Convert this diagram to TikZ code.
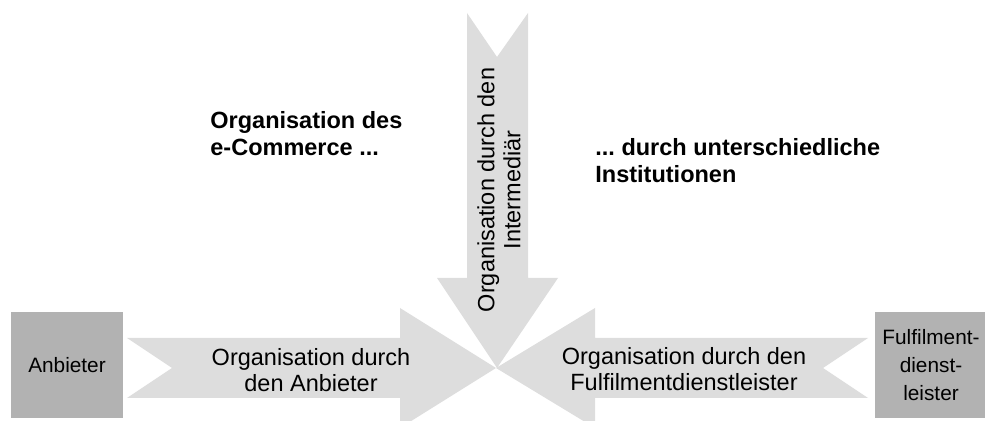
\documentclass[tikz,border=0pt]{standalone}
\usepackage{fontspec}
\setmainfont{Liberation Sans}
\usetikzlibrary{positioning}
\definecolor{flowgray}{RGB}{221,221,221}
\definecolor{partygray}{RGB}{178,178,178}
\frenchspacing

\begin{document}
\begin{tikzpicture}[
            x=0.5pt, y=-0.5pt,
            flow/.style={fill=flowgray, draw=none},
            party/.style={rectangle, fill=partygray, minimum width=56pt, minimum height=53pt, inner sep=0pt, align=center, font=\fontsize{10.4}{14}\selectfont},
            flowtext/.style={inner sep=0pt, align=center, font=\fontsize{11.75}{13}\selectfont},
            heading/.style={inner sep=0pt, align=left, font=\bfseries\fontsize{11.75}{13.5}\selectfont}
        ]

        \clip (0,0) rectangle (985,421);

        % Arrows into the centre
        \fill[flow] (127,338) -- (400,338) -- (400,308) -- (496,368) -- (400,428) -- (400,398) -- (127,398) -- (172,368) -- cycle;
        \fill[flow] (868,338) -- (595,338) -- (595,308) -- (496,368) -- (595,428) -- (595,398) -- (868,398) -- (823,368) -- cycle;
        \fill[flow] (467,13) -- (467,278) -- (437,278) -- (497,368) -- (558,278) -- (528,278) -- (528,13) -- (497,57) -- cycle;

        % Institutions
        \node[party] (anbieter) at (67,365) {Anbieter};
        \node[party] (fulfiller) at (931,365.5) {Fulfilment-\\dienst-\\leister};

        % Arrow labels
        \node[flowtext] (byprovider) at (311,370) {Organisation durch\\den Anbieter};
        \node[flowtext] (byfulfiller) at (684,369) {Organisation durch den\\Fulfilmentdienstleister};
        \node[flowtext, rotate=90] (byintermediary) at (499,190) {Organisation durch den\\Intermediär};

        % Headings
        \node[heading, anchor=west] (question) at (210,134) {Organisation des\\e-Commerce ...};
        \node[heading, anchor=west] (answer) at (595,161) {... durch unterschiedliche\\Institutionen};

    \end{tikzpicture}
\end{document}
